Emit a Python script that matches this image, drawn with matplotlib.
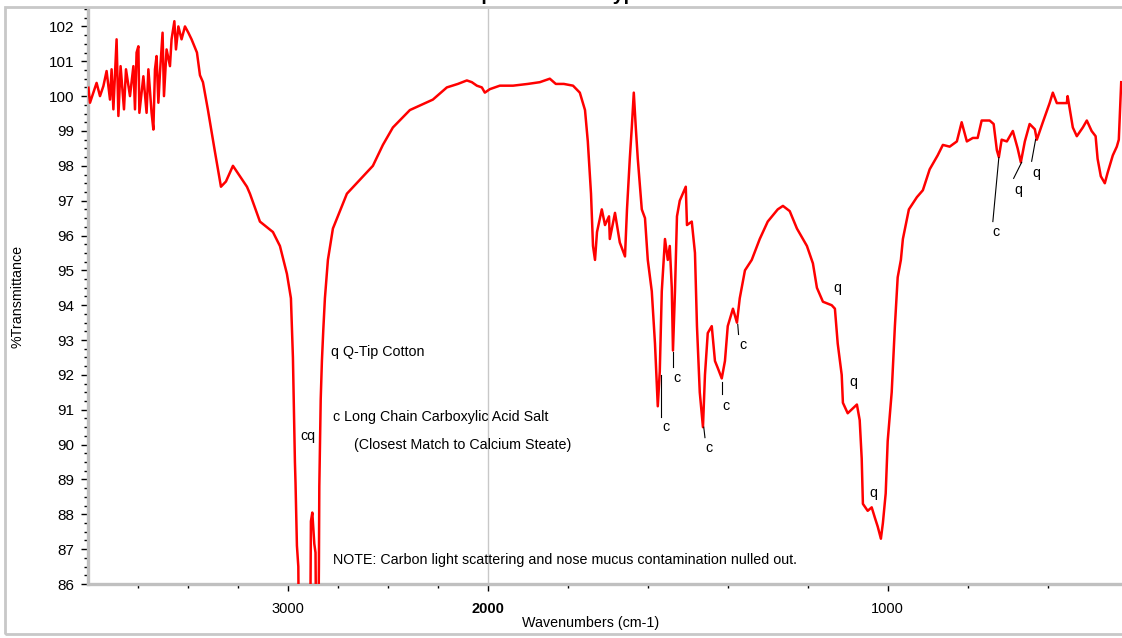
#!/usr/bin/env python3

import matplotlib.pyplot as plt
import matplotlib.patches as patches
from matplotlib.ticker import FixedLocator, MultipleLocator
import numpy as np

plt.rcParams['font.family'] = ['Liberation Sans', 'DejaVu Sans']

# spectrum, wavenumber (cm-1) vs %T
wavenumber = [
    3998, 3990, 3973, 3957, 3940, 3923, 3907, 3890, 3882, 3873, 3857, 3848, 3837, 3820,
    3810, 3790, 3773, 3765, 3757, 3748, 3743, 3723, 3707, 3698, 3682, 3673, 3665, 3657,
    3648, 3640, 3627, 3620, 3607, 3590, 3582, 3568, 3560, 3548, 3532, 3515, 3498, 3482,
    3455, 3440, 3425, 3400, 3365, 3335, 3310, 3275, 3205, 3190, 3140, 3075, 3040, 3005,
    2985, 2975, 2970, 2965, 2962, 2955, 2948, 2943,
    2890, 2885, 2878, 2873, 2868, 2862, 2857,
    2850, 2845, 2843, 2836, 2830, 2823, 2815, 2800, 2775, 2740, 2705, 2640, 2575, 2525,
    2475, 2390, 2275, 2205, 2150, 2105, 2080, 2055, 2030, 2015, 1995, 1970,
    1937, 1900, 1870, 1845, 1830, 1810, 1787, 1770, 1757, 1750, 1742, 1737, 1732, 1727,
    1715, 1707, 1697, 1695, 1682, 1670, 1657, 1652, 1645, 1640, 1635, 1630, 1625, 1615,
    1607, 1600, 1590, 1582, 1575, 1570, 1565, 1557, 1550, 1545, 1540, 1537, 1532, 1527,
    1520, 1505, 1502, 1490, 1482, 1477, 1470, 1462, 1457, 1450, 1440, 1432, 1425, 1415,
    1407, 1400, 1387, 1377, 1370, 1357, 1340, 1320, 1300, 1275, 1262, 1245, 1227, 1202,
    1187, 1177, 1162, 1140, 1132, 1125, 1115, 1112, 1100, 1077, 1070, 1065, 1062, 1050,
    1040, 1032, 1025, 1017, 1012, 1005, 1000, 990, 982, 975, 967, 962, 947, 927,
    912, 895, 875, 862, 845, 827, 815, 802, 787, 775, 765, 745, 735, 727,
    722, 715, 702, 687, 675, 667, 657, 645, 632, 627, 612, 595, 587, 577,
    552, 550, 537, 527, 512, 502, 490, 480, 475, 467, 457, 450, 437, 427,
    422, 416,
]
transmittance = [
    100.24, 99.81, 100.10, 100.38, 100.00, 100.29, 100.72, 99.90, 100.77, 99.62, 101.63, 99.43, 100.86, 99.62,
    100.77, 100.00, 100.86, 99.62, 101.25, 101.43, 99.52, 100.57, 99.52, 100.77, 99.52, 99.04, 100.77, 101.15,
    99.81, 100.67, 101.82, 100.00, 101.34, 100.86, 101.63, 102.15, 101.34, 102.00, 101.63, 102.00, 101.82, 101.63,
    101.25, 100.60, 100.40, 99.60, 98.40, 97.40, 97.55, 98.00, 97.40, 97.20, 96.40, 96.10, 95.70, 94.90,
    94.20, 92.50, 91.00, 89.50, 88.90, 87.10, 86.50, 83.00,
    83.00, 87.80, 88.05, 87.60, 87.15, 86.90, 83.00,
    83.00, 86.50, 88.80, 91.30, 92.40, 93.30, 94.20, 95.30, 96.20, 96.70, 97.20, 97.60, 98.00, 98.60,
    99.10, 99.60, 99.90, 100.25, 100.35, 100.45, 100.40, 100.30, 100.25, 100.10, 100.20, 100.30,
    100.30, 100.35, 100.40, 100.50, 100.35, 100.35, 100.30, 100.10, 99.60, 98.70, 97.20, 95.70, 95.30, 96.10,
    96.75, 96.30, 96.55, 95.90, 96.65, 95.80, 95.40, 96.75, 98.20, 99.10, 100.10, 99.10, 98.20, 96.75,
    96.50, 95.30, 94.40, 92.90, 91.10, 92.10, 94.40, 95.90, 95.30, 95.70, 94.50, 92.70, 94.40, 96.55,
    97.00, 97.40, 96.30, 96.40, 95.50, 93.40, 91.50, 90.50, 92.00, 93.20, 93.40, 92.40, 92.20, 91.90,
    92.40, 93.40, 93.90, 93.50, 94.20, 95.00, 95.30, 95.90, 96.40, 96.75, 96.85, 96.70, 96.20, 95.70,
    95.20, 94.50, 94.10, 94.00, 93.90, 92.90, 92.00, 91.20, 90.90, 91.15, 90.70, 89.60, 88.30, 88.10,
    88.20, 87.90, 87.65, 87.30, 87.75, 88.60, 90.10, 91.50, 93.40, 94.80, 95.30, 95.90, 96.75, 97.10,
    97.30, 97.90, 98.30, 98.60, 98.55, 98.70, 99.25, 98.70, 98.80, 98.80, 99.30, 99.30, 99.20, 98.45,
    98.25, 98.75, 98.70, 99.00, 98.50, 98.10, 98.70, 99.20, 99.05, 98.75, 99.25, 99.80, 100.10, 99.80,
    99.80, 100.00, 99.10, 98.85, 99.10, 99.30, 99.00, 98.85, 98.20, 97.70, 97.50, 97.80, 98.30, 98.55,
    98.75, 100.40,
]

# peak labels: (text, label x, label y, line from (x, y) to (x, y))
labels = ['c', 'c', 'c', 'c', 'c', 'c', 'q', 'q']
label_x = [1555, 1527, 1447, 1405, 1362, 730, 672, 627]
label_y = [90.5, 91.9, 89.9, 91.1, 92.85, 96.1, 97.3, 97.8]
line_x0 = [1567, 1537, 1460, 1415, 1375, 722, 665, 630]
line_y0 = [92.0, 92.67, 90.5, 91.8, 93.45, 98.24, 98.1, 98.76]
line_x1 = [1567, 1537, 1457, 1415, 1373, 737, 685, 640]
line_y1 = [90.8, 92.24, 90.2, 91.45, 93.16, 96.4, 97.64, 98.13]

q_x = [1125, 1087, 1035]
q_y = [94.5, 91.8, 88.6]


def fwd(x):
    x = np.asarray(x, dtype=float)
    return np.where(x > 2000, 2000 + (x - 2000) / 2, x)


def inv(u):
    u = np.asarray(u, dtype=float)
    return np.where(u > 2000, 2000 + (u - 2000) * 2, u)


fig = plt.figure(figsize=(11.22, 6.38), dpi=100)
ax = fig.add_axes([88 / 1122, 54 / 638, 1034 / 1122, 575 / 638])

ax.set_xscale('function', functions=(fwd, inv))
ax.set_xlim(4000, 414)
ax.set_ylim(86, 102.5)

ax.axvline(2000, color='#c8c8c8', lw=1, zorder=1)
ax.plot(wavenumber, transmittance, color='#ff0000', lw=1.8, zorder=3)

for t, tx, ty, x0, y0, x1, y1 in zip(labels, label_x, label_y, line_x0, line_y0, line_x1, line_y1):
    ax.plot([x0, x1], [y0, y1], color='black', lw=0.8, zorder=4)
    ax.text(tx, ty, t, fontsize=10.3, ha='center', va='center')
for tx, ty in zip(q_x, q_y):
    ax.text(tx, ty, 'q', fontsize=10.3, ha='center', va='center')

ax.text(2938, 90.24, 'cq', fontsize=10.3, ha='left', va='center')
ax.text(2785, 92.65, 'q Q-Tip Cotton', fontsize=10.3, ha='left', va='center')
ax.text(2775, 90.8, 'c Long Chain Carboxylic Acid Salt', fontsize=10.3, ha='left', va='center')
ax.text(2670, 89.98, '(Closest Match to Calcium Steate)', fontsize=10.3, ha='left', va='center')
ax.text(2775, 86.68, 'NOTE: Carbon light scattering and nose mucus contamination nulled out.',
        fontsize=10.3, ha='left', va='center')

# axes styling
for side in ['top', 'right']:
    ax.spines[side].set_visible(False)
for side in ['left', 'bottom']:
    ax.spines[side].set_color('#c0c0c0')
    ax.spines[side].set_linewidth(2.4)

ax.xaxis.set_major_locator(FixedLocator([3000, 2000, 1000]))
ax.xaxis.set_minor_locator(FixedLocator([3750, 3500, 3250, 2750, 2500, 2250,
                                         1800, 1600, 1400, 1200, 800, 600]))
ax.set_xticklabels(['3000', '2000', '1000'])
ax.get_xticklabels()[1].set_fontweight('bold')
ax.yaxis.set_major_locator(MultipleLocator(1))
ax.yaxis.set_minor_locator(MultipleLocator(0.25))

ax.tick_params(axis='both', which='major', direction='out', color='black', width=1, length=5)
ax.tick_params(axis='both', which='minor', direction='out', color='black', width=1, length=3)
ax.tick_params(axis='y', which='major', labelsize=11, pad=5)
ax.tick_params(axis='x', which='major', labelsize=10.5, pad=8)

ax.set_xlabel('Wavenumbers (cm-1)', fontsize=10.3)
ax.xaxis.set_label_coords(0.486, -0.055)
ax.set_ylabel('%Transmittance', fontsize=10.3)
ax.yaxis.set_label_coords(-0.068, 0.5)
ax.yaxis.label.set_va('center')

# outer frame and clipped title
fig.patches.append(patches.Rectangle((5 / 1122, 4 / 638), 1.0, 627 / 638, transform=fig.transFigure,
                                     fill=False, edgecolor='#c8c8c8', lw=2))
fig.text(440 / 1122, 1 - 0.5 / 638, 'Sample Residue: Type A', fontsize=14, fontweight='bold',
         ha='left', va='baseline')

fig.savefig('out.png', dpi=100)
